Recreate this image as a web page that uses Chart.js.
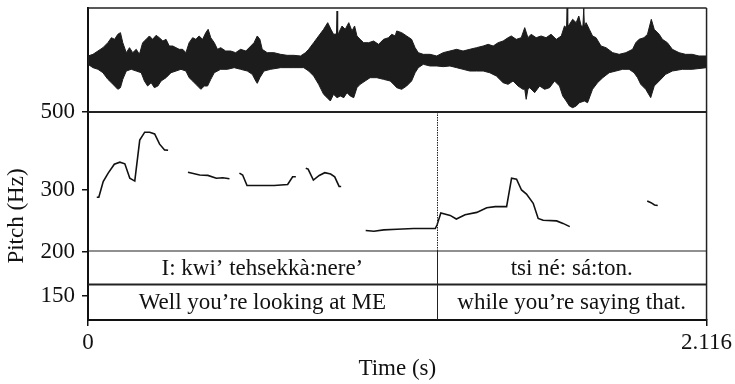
<!DOCTYPE html>
<html>
<head>
<meta charset="utf-8">
<script src="https://cdn.jsdelivr.net/npm/chart.js@4.4.0/dist/chart.umd.min.js"></script>
<style>
  html, body { margin: 0; padding: 0; background: #fff; }
  #wrap { width: 735px; height: 384px; position: relative; }
</style>
</head>
<body>
<div id="wrap"><canvas id="praat"></canvas></div>
<script>
// waveform envelope, upper edge (seconds / relative amplitude)
var waveTopTime = [
  0, .017, .034, .051, .068, .080, .091, .102, .111, .119,
  .131, .142, .153, .165, .176, .187, .199, .210, .221, .233,
  .244, .256, .267, .278, .290, .301, .312, .324, .335, .346,
  .358, .369, .380, .392, .403, .411, .420, .432, .443, .454,
  .471, .488, .505, .522, .540, .557, .568, .579, .588, .596,
  .613, .636, .659, .681, .704, .727, .744, .755, .772, .789,
  .806, .820, .831, .840, .850, .852, .854, .858, .869, .880,
  .892, .903, .912, .920, .931, .943, .960, .977, .994, 1.011,
  1.028, 1.039, 1.051, 1.056, 1.073, 1.090, 1.107, 1.119, 1.130, 1.147,
  1.170, 1.193, 1.215, 1.238, 1.261, 1.283, 1.306, 1.329, 1.352, 1.369,
  1.386, 1.403, 1.420, 1.437, 1.448, 1.465, 1.482, 1.494, 1.505, 1.516,
  1.533, 1.550, 1.567, 1.584, 1.602, 1.619, 1.630, 1.637, 1.639, 1.641,
  1.647, 1.658, 1.670, 1.679, 1.687, 1.693, 1.696, 1.698, 1.704, 1.715,
  1.726, 1.738, 1.755, 1.772, 1.795, 1.817, 1.840, 1.863, 1.874, 1.885,
  1.902, 1.914, 1.927, 1.937, 1.954, 1.965, 1.982, 1.999, 2.022, 2.044,
  2.067, 2.090, 2.116
];
var waveTop = [
  .077, .109, .173, .237, .333, .429, .397, .494, .526, .333,
  .141, .237, .141, .205, .109, .333, .397, .462, .397, .474,
  .429, .365, .397, .269, .269, .237, .205, .205, .141, .333,
  .429, .397, .462, .397, .526, .590, .429, .333, .205, .237,
  .173, .173, .141, .205, .173, .269, .333, .462, .397, .205,
  .141, .141, .109, .090, .090, .077, .141, .205, .333, .462,
  .590, .718, .590, .494, .500, .942, .500, .526, .654, .590,
  .718, .558, .654, .462, .397, .333, .333, .365, .301, .397,
  .429, .494, .462, .558, .526, .462, .397, .237, .141, .109,
  .109, .077, .141, .173, .205, .173, .205, .237, .269, .301,
  .269, .333, .365, .429, .462, .397, .429, .622, .429, .494,
  .429, .462, .429, .494, .397, .462, .654, .620, 1.0, .650,
  .686, .782, .718, .846, .654, .650, 1.0, .650, .718, .590,
  .462, .429, .269, .237, .141, .109, .141, .205, .333, .397,
  .429, .494, .782, .590, .494, .397, .333, .205, .141, .109,
  .109, .077, .077
];
// lower edge
var waveBotTime = [
  0, .017, .034, .051, .068, .080, .091, .102, .111, .119,
  .131, .148, .165, .182, .193, .204, .216, .227, .239, .250,
  .267, .284, .301, .318, .335, .346, .358, .369, .386, .398,
  .409, .420, .432, .454, .477, .500, .522, .545, .562, .574,
  .579, .588, .602, .625, .659, .704, .738, .755, .772, .789,
  .806, .818, .829, .840, .852, .863, .875, .886, .897, .909,
  .920, .931, .948, .965, .988, 1.011, 1.034, 1.051, 1.056, 1.073,
  1.090, 1.107, 1.119, 1.130, 1.147, 1.170, 1.193, 1.215, 1.238, 1.261,
  1.283, 1.306, 1.329, 1.352, 1.374, 1.397, 1.420, 1.437, 1.454, 1.471,
  1.488, 1.494, 1.499, 1.505, 1.511, 1.528, 1.545, 1.562, 1.579, 1.596,
  1.613, 1.624, 1.636, 1.647, 1.658, 1.670, 1.681, 1.698, 1.709, 1.726,
  1.743, 1.761, 1.783, 1.806, 1.829, 1.851, 1.868, 1.880, 1.891, 1.908,
  1.925, 1.937, 1.954, 1.976, 1.999, 2.033, 2.067, 2.116
];
var waveBot = [
  -.083, -.147, -.179, -.244, -.372, -.436, -.500, -.564, -.532, -.372,
  -.212, -.179, -.212, -.244, -.404, -.500, -.436, -.532, -.500, -.404,
  -.340, -.244, -.212, -.179, -.212, -.340, -.404, -.468, -.564, -.500,
  -.500, -.372, -.244, -.179, -.179, -.147, -.179, -.212, -.276, -.404,
  -.449, -.340, -.212, -.179, -.147, -.147, -.147, -.212, -.308, -.468,
  -.660, -.724, -.788, -.660, -.724, -.692, -.724, -.628, -.692, -.724,
  -.532, -.468, -.404, -.340, -.340, -.372, -.404, -.500, -.532, -.564,
  -.500, -.404, -.244, -.147, -.083, -.115, -.115, -.128, -.115, -.147,
  -.179, -.212, -.212, -.212, -.244, -.308, -.436, -.468, -.404, -.500,
  -.564, -.560, -.756, -.560, -.532, -.628, -.500, -.564, -.532, -.404,
  -.500, -.692, -.788, -.885, -.917, -.885, -.821, -.788, -.821, -.564,
  -.436, -.340, -.244, -.212, -.179, -.179, -.244, -.340, -.468, -.564,
  -.724, -.500, -.404, -.276, -.212, -.179, -.179, -.147
];

// pitch track (s / Hz), null = unvoiced gap
var pitchTime = [
  0.030, 0.037, 0.052, 0.069, 0.090, 0.109, 0.126, 0.143, 0.160, 0.177, 0.194, 0.211, 0.228, 0.245, 0.262, 0.274,
  0.310,
  0.342, 0.382, 0.410, 0.439, 0.461, 0.484,
  0.500,
  0.518, 0.529, 0.544, 0.592, 0.637, 0.683, 0.700, 0.711,
  0.730,
  0.745, 0.753, 0.771, 0.791, 0.810, 0.830, 0.844, 0.859, 0.866,
  0.900,
  0.950, 0.978, 1.012, 1.057, 1.114, 1.160, 1.188, 1.194, 1.207, 1.239, 1.260, 1.290, 1.330,
  1.364, 1.393, 1.432, 1.449, 1.466, 1.483, 1.500, 1.523, 1.540, 1.557, 1.603, 1.625, 1.648,
  1.800,
  1.913, 1.926, 1.938, 1.949
];
var pitchHz = [
  286, 286, 317, 335, 355, 360, 356, 324, 318, 416, 438, 438, 433, 405, 390, 389,
  null,
  337, 331, 330, 324, 325, 323,
  null,
  335, 331, 309, 309, 309, 311, 327, 327,
  null,
  346, 344, 320, 330, 336, 333, 327, 307, 307,
  null,
  230, 229, 231, 232, 233, 233, 233, 238.5, 258, 254, 248, 255, 259,
  267, 269, 269, 324, 322, 300, 292, 275, 249, 246, 245, 241, 236,
  null,
  279, 276, 272, 271
];

// text grid
var tierBounds = [0, 1.193, 2.116];
var tier1Labels = ["I: kwi\u2019 tehsekk\u00e0:nere\u2019", "tsi n\u00e9: s\u00e1:ton."];
var tier2Labels = ["Well you\u2019re looking at ME", "while you\u2019re saying that."];

var pitchTicks = [150, 200, 300, 500];
var timeTicks = [0, 2.116];

var FONT = '"Liberation Serif", "Times New Roman", serif';
var FSIZE = 23;

function pts(xs, ys) {
  return xs.map(function (t, i) { return { x: t, y: ys[i] }; });
}

var praatFrame = {
  id: 'praatFrame',
  afterDatasetsDraw: function (chart) {
    var ctx = chart.ctx, a = chart.chartArea;
    var x = chart.scales.x, yWave = chart.scales.yWave;
    var yw = yWave.getPixelForValue(-1);
    var t1 = a.bottom - 69, t2 = a.bottom - 35.5;

    ctx.save();
    ctx.strokeStyle = '#222';
    // sound box
    ctx.lineWidth = 1.5;
    ctx.beginPath();
    ctx.moveTo(a.left, a.top); ctx.lineTo(a.right, a.top);
    ctx.moveTo(a.right, a.top); ctx.lineTo(a.right, a.bottom);
    ctx.stroke();
    ctx.lineWidth = 2;
    ctx.beginPath();
    ctx.moveTo(a.left, yw); ctx.lineTo(a.right, yw);
    ctx.stroke();
    // tier lines
    ctx.lineWidth = 1.2;
    ctx.beginPath(); ctx.moveTo(a.left, t1); ctx.lineTo(a.right, t1); ctx.stroke();
    ctx.lineWidth = 2;
    ctx.beginPath(); ctx.moveTo(a.left, t2); ctx.lineTo(a.right, t2); ctx.stroke();

    // interval boundaries
    for (var i = 1; i < tierBounds.length - 1; i++) {
      var bx = Math.round(x.getPixelForValue(tierBounds[i])) + 0.5;
      ctx.lineWidth = 1;
      ctx.setLineDash([1.5, 1]);
      ctx.beginPath(); ctx.moveTo(bx, yw); ctx.lineTo(bx, t1); ctx.stroke();
      ctx.setLineDash([]);
      ctx.beginPath(); ctx.moveTo(bx, t1); ctx.lineTo(bx, a.bottom); ctx.stroke();
    }

    // interval texts
    ctx.fillStyle = '#111';
    ctx.font = FSIZE + 'px ' + FONT;
    ctx.textAlign = 'center';
    ctx.textBaseline = 'middle';
    for (var j = 0; j < tierBounds.length - 1; j++) {
      var cx = (x.getPixelForValue(tierBounds[j]) + x.getPixelForValue(tierBounds[j + 1])) / 2;
      ctx.fillText(tier1Labels[j], cx, (t1 + t2) / 2 + 1);
      ctx.fillText(tier2Labels[j], cx, (t2 + a.bottom) / 2 + 1);
    }

    // y title, centred on the pitch part only
    ctx.translate(17, (yw + a.bottom) / 2);
    ctx.rotate(-Math.PI / 2);
    ctx.fillText('Pitch (Hz)', 0, 0);
    ctx.restore();
  }
};

new Chart(document.getElementById('praat'), {
  type: 'line',
  data: {
    datasets: [
      {
        data: pts(waveTopTime, waveTop),
        yAxisID: 'yWave',
        borderColor: '#1c1c1c',
        backgroundColor: '#1c1c1c',
        borderWidth: 1,
        pointRadius: 0,
        tension: 0,
        fill: '+1'
      },
      {
        data: pts(waveBotTime, waveBot),
        yAxisID: 'yWave',
        borderColor: '#1c1c1c',
        backgroundColor: '#1c1c1c',
        borderWidth: 1,
        pointRadius: 0,
        tension: 0,
        fill: false
      },
      {
        data: pts(pitchTime, pitchHz),
        yAxisID: 'yPitch',
        borderColor: '#111',
        borderWidth: 1.6,
        pointRadius: 0,
        spanGaps: false,
        fill: false
      }
    ]
  },
  options: {
    responsive: true,
    maintainAspectRatio: false,
    animation: false,
    layout: { padding: { top: 8, right: 26, left: 0, bottom: 0 } },
    plugins: { legend: { display: false }, tooltip: { enabled: false } },
    scales: {
      x: {
        type: 'linear',
        min: 0,
        max: 2.116,
        afterBuildTicks: function (s) { s.ticks = timeTicks.map(function (v) { return { value: v }; }); },
        afterFit: function (s) { s.height = 64; },
        ticks: {
          color: '#111', autoSkip: false, maxRotation: 0, padding: 3,
          font: { family: FONT, size: FSIZE },
          callback: function (v) { return String(v); }
        },
        grid: { drawOnChartArea: false, drawTicks: true, tickLength: 6, color: '#111', lineWidth: 1.5 },
        border: { display: true, color: '#111', width: 2 },
        title: {
          display: true, text: 'Time (s)', color: '#111',
          font: { family: FONT, size: FSIZE }, padding: { top: 0, bottom: 1 }
        }
      },
      yPitch: {
        type: 'logarithmic',
        position: 'left',
        min: 128,
        max: 988,
        afterBuildTicks: function (s) { s.ticks = pitchTicks.map(function (v) { return { value: v }; }); },
        afterFit: function (s) { s.width = 88; s.paddingTop = 0; s.paddingBottom = 0; },
        ticks: {
          color: '#111', padding: 7,
          font: { family: FONT, size: FSIZE },
          callback: function (v) { return String(v); }
        },
        grid: { drawOnChartArea: false, drawTicks: true, tickLength: 6, color: '#111', lineWidth: 1.5 },
        border: { display: true, color: '#111', width: 2 }
      },
      yWave: {
        type: 'linear',
        display: false,
        min: -5,
        max: 1
      }
    }
  },
  plugins: [praatFrame]
});
</script>
</body>
</html>
